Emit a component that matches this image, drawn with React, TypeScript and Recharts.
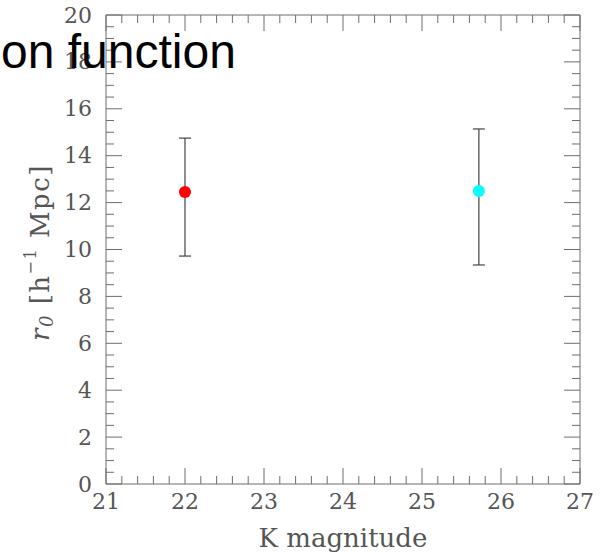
// Clustering length r0 against K magnitude for two galaxy samples
// Framed plot with inward ticks on all four sides, like the original figure

import React from 'react';
import { ScatterChart, Scatter, XAxis, YAxis, ErrorBar } from 'recharts';

// sample values
const kMagnitude = [22.0, 25.72];
const r0Value = [12.45, 12.49];
const errLow = [2.73, 3.15];
const errHigh = [2.3, 2.65];
const pointColors = ['#ff0000', '#00ffff'];

const xMajorTicks = [21, 22, 23, 24, 25, 26, 27];
const yMajorTicks = [0, 2, 4, 6, 8, 10, 12, 14, 16, 18, 20];
const xMinorStep = 0.2;
const yMinorStep = 0.5;

const AXIS_GREY = '#6e6e6e';
const LABEL_GREY = '#555';
const SERIF = '"DejaVu Serif", serif';

// fill in the minor ticks between the major ones
function withMinor(major: number[], step: number) {
  const out: number[] = [];
  for (let i = 0; i < major.length - 1; i++) {
    const n = Math.round((major[i + 1] - major[i]) / step);
    for (let k = 0; k < n; k++) out.push(Number((major[i] + k * step).toFixed(2)));
  }
  out.push(major[major.length - 1]);
  return out;
}

const xTicks = withMinor(xMajorTicks, xMinorStep);
const yTicks = withMinor(yMajorTicks, yMinorStep);

const isMajor = (v: number, majors: number[]) => majors.some((m) => Math.abs(m - v) < 1e-6);

const samples = kMagnitude.map((k, i) => [
  { x: k, y: r0Value[i], err: [errLow[i], errHigh[i]] },
]);

const MAJOR_LEN = 16;
const MINOR_LEN = 8;

function BottomTick({ x, y, payload }: any) {
  const major = isMajor(payload.value, xMajorTicks);
  return (
    <g>
      <line x1={x} x2={x} y1={y} y2={y - (major ? MAJOR_LEN : MINOR_LEN)} stroke={AXIS_GREY} />
      {major && (
        <text x={x} y={y + 17} textAnchor="middle" dominantBaseline="central"
          fontFamily={SERIF} fontSize={22} fill={LABEL_GREY}>
          {payload.value}
        </text>
      )}
    </g>
  );
}

function TopTick({ x, y, payload }: any) {
  const major = isMajor(payload.value, xMajorTicks);
  return <line x1={x} x2={x} y1={y} y2={y + (major ? MAJOR_LEN : MINOR_LEN)} stroke={AXIS_GREY} />;
}

function LeftTick({ x, y, payload }: any) {
  const major = isMajor(payload.value, yMajorTicks);
  return (
    <g>
      <line x1={x} x2={x + (major ? MAJOR_LEN : MINOR_LEN)} y1={y} y2={y} stroke={AXIS_GREY} />
      {major && (
        <text x={x - 14} y={y} textAnchor="end" dominantBaseline="central"
          fontFamily={SERIF} fontSize={22} fill={LABEL_GREY}>
          {payload.value}
        </text>
      )}
    </g>
  );
}

function RightTick({ x, y, payload }: any) {
  const major = isMajor(payload.value, yMajorTicks);
  return <line x1={x} x2={x - (major ? MAJOR_LEN : MINOR_LEN)} y1={y} y2={y} stroke={AXIS_GREY} />;
}

function XLabel({ viewBox }: any) {
  const cx = viewBox.x + viewBox.width / 2;
  return (
    <text x={cx} y={viewBox.y + 63} textAnchor="middle" fontFamily={SERIF} fontSize={26} fill={LABEL_GREY}>
      K magnitude
    </text>
  );
}

function YLabel({ viewBox }: any) {
  const cx = viewBox.x + 40;
  const cy = viewBox.y + viewBox.height / 2 + 3;
  return (
    <text x={cx} y={cy} transform={`rotate(-90 ${cx} ${cy})`} textAnchor="middle"
      dominantBaseline="central" fontFamily={SERIF} fontSize={26} fill={LABEL_GREY} letterSpacing={1.5}>
      <tspan fontStyle="italic">r</tspan>
      <tspan fontStyle="italic" fontSize={18} dy={6}>0</tspan>
      <tspan dy={-6}>{'  [h'}</tspan>
      <tspan fontSize={16} dy={-10}>−1</tspan>
      <tspan dy={10}>{'  Mpc]'}</tspan>
    </text>
  );
}

const dot = (color: string) => (props: any) => (
  <circle cx={props.cx} cy={props.cy} r={6} fill={color} />
);

export default function App() {
  return (
    <div style={{ position: 'absolute', left: 0, top: 0, width: 602, height: 553, background: '#fff' }}>
      <ScatterChart width={602} height={553} margin={{ top: 14, right: 21, bottom: 0, left: 0 }}>
        <XAxis xAxisId="bottom" type="number" dataKey="x" domain={[21, 27]} ticks={xTicks}
          interval={0} allowDataOverflow height={69} tickSize={0} tickMargin={0} tickLine={false}
          axisLine={{ stroke: AXIS_GREY }} tick={<BottomTick />} label={<XLabel />} />
        <XAxis xAxisId="top" orientation="top" type="number" dataKey="x" domain={[21, 27]} ticks={xTicks}
          interval={0} allowDataOverflow height={1} tickSize={0} tickMargin={0} tickLine={false}
          axisLine={{ stroke: AXIS_GREY }} tick={<TopTick />} />
        <YAxis yAxisId="left" type="number" dataKey="y" domain={[0, 20]} ticks={yTicks}
          interval={0} allowDataOverflow width={106} tickSize={0} tickMargin={0} tickLine={false}
          axisLine={{ stroke: AXIS_GREY }} tick={<LeftTick />} label={<YLabel />} />
        <YAxis yAxisId="right" orientation="right" type="number" dataKey="y" domain={[0, 20]} ticks={yTicks}
          interval={0} allowDataOverflow width={1} tickSize={0} tickMargin={0} tickLine={false}
          axisLine={{ stroke: AXIS_GREY }} tick={<RightTick />} />
        {samples.map((data, i) => (
          <Scatter key={i} data={data} dataKey="y" xAxisId="bottom" yAxisId="left"
            shape={dot(pointColors[i])} isAnimationActive={false}>
            <ErrorBar dataKey="err" direction="y" width={6} stroke="#444" strokeWidth={1.2}
              isAnimationActive={false} />
          </Scatter>
        ))}
        {/* invisible copies so the top and right frame axes have a series bound to them */}
        <Scatter data={samples[0]} dataKey="y" xAxisId="top" yAxisId="right"
          shape={() => <g />} isAnimationActive={false} />
      </ScatterChart>
      {/* title, cut off on the left just like the source image */}
      <svg width={602} height={553} style={{ position: 'absolute', left: 0, top: 0, pointerEvents: 'none' }}>
        <text x={1} y={68} fontFamily='"Liberation Sans", Arial, sans-serif' fontSize={48} fill="#000">
          on function
        </text>
      </svg>
    </div>
  );
}
